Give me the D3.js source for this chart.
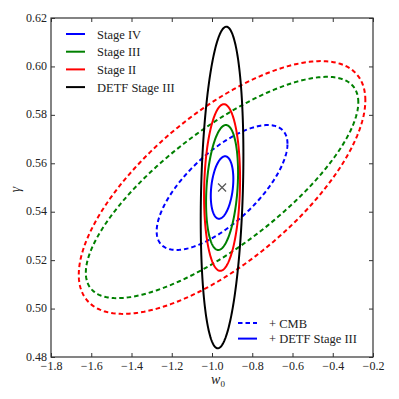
<!DOCTYPE html>
<html>
<head>
<meta charset="utf-8">
<script src="https://cdn.jsdelivr.net/npm/d3@7"></script>
<style>
  body { margin: 0; background: #fff; }
  svg text { font-family: "Liberation Serif", "DejaVu Serif", serif; fill: #222; }
</style>
</head>
<body>
<svg id="chart" width="399" height="399"></svg>
<script>
// fiducial model (w0, gamma)
var fiducial = [-0.95, 0.55];

// + CMB (dashed) : half-extents in w0 / gamma and correlation
var cmbStage = ["Stage IV", "Stage III", "Stage II"];
var cmbHalfW = [0.325, 0.677, 0.712];
var cmbHalfH = [0.0258, 0.0457, 0.0522];
var cmbRho   = [0.70, 0.77, 0.69];

// + DETF Stage III (solid)
var detfStage = ["Stage IV", "Stage III", "Stage II", "DETF Stage III"];
var detfHalfW = [0.056, 0.0795, 0.0894, 0.106];
var detfHalfH = [0.0129, 0.0258, 0.0344, 0.0664];
var detfRho   = [0.27, 0.24, 0.10, 0.20];

var xTicks = [-1.8, -1.6, -1.4, -1.2, -1.0, -0.8, -0.6, -0.4, -0.2];
var yTicks = [0.48, 0.50, 0.52, 0.54, 0.56, 0.58, 0.60, 0.62];

var colorOf = {"Stage IV": "#0000ff", "Stage III": "#008000", "Stage II": "#ff0000", "DETF Stage III": "#000000"};

///////////////////////
// Chart Size Setup
var margin = { top: 18, right: 26, bottom: 42, left: 51 };
var width = 399 - margin.left - margin.right;
var height = 399 - margin.top - margin.bottom;

var svg = d3.select("#chart");
var chart = svg.append("g")
    .attr("transform", "translate(" + margin.left + "," + margin.top + ")");

///////////////////////
// Scales
var x = d3.scaleLinear().domain([-1.8, -0.2]).range([0, width]);
var y = d3.scaleLinear().domain([0.48, 0.62]).range([height, 0]);

// ellipse outline from half-extents + correlation
function ellipse(hw, hh, rho) {
  var pts = [];
  var s = Math.sqrt(1 - rho * rho);
  for (var i = 0; i < 240; i++) {
    var t = 2 * Math.PI * i / 240;
    pts.push([fiducial[0] + hw * Math.cos(t),
              fiducial[1] + hh * (rho * Math.cos(t) + s * Math.sin(t))]);
  }
  return pts;
}

var line = d3.line()
    .x(function(d) { return x(d[0]); })
    .y(function(d) { return y(d[1]); })
    .curve(d3.curveLinearClosed);

var plot = chart.append("g");

cmbStage.forEach(function(name, i) {
  plot.append("path")
      .attr("d", line(ellipse(cmbHalfW[i], cmbHalfH[i], cmbRho[i])))
      .attr("fill", "none")
      .attr("stroke", colorOf[name])
      .attr("stroke-width", 2)
      .attr("stroke-dasharray", "4.5,3");
});

detfStage.forEach(function(name, i) {
  plot.append("path")
      .attr("d", line(ellipse(detfHalfW[i], detfHalfH[i], detfRho[i])))
      .attr("fill", "none")
      .attr("stroke", colorOf[name])
      .attr("stroke-width", 2);
});

// fiducial marker
var cx = x(fiducial[0]), cy = y(fiducial[1]);
plot.append("path")
    .attr("d", "M" + (cx - 4) + "," + (cy - 4) + "L" + (cx + 4) + "," + (cy + 4) +
               "M" + (cx - 4) + "," + (cy + 4) + "L" + (cx + 4) + "," + (cy - 4))
    .attr("stroke", "#555")
    .attr("stroke-width", 1.2);

///////////////////////
// Axis
var fmtX = d3.format(".1f");
var fmtY = d3.format(".2f");

chart.append("g")
    .attr("class", "x axis")
    .attr("transform", "translate(0," + height + ")")
    .call(d3.axisBottom(x).tickValues(xTicks).tickFormat(fmtX).tickSize(-4).tickPadding(4));

chart.append("g")
    .attr("class", "x axis")
    .call(d3.axisTop(x).tickValues(xTicks).tickFormat("").tickSize(-4));

chart.append("g")
    .attr("class", "y axis")
    .call(d3.axisLeft(y).tickValues(yTicks).tickFormat(fmtY).tickSize(-4).tickPadding(4));

chart.append("g")
    .attr("class", "y axis")
    .attr("transform", "translate(" + width + ",0)")
    .call(d3.axisRight(y).tickValues(yTicks).tickFormat("").tickSize(-4));

chart.selectAll(".axis .domain").remove();
chart.selectAll(".axis line").attr("stroke", "#333");
chart.selectAll(".axis text")
    .attr("font-family", null)
    .style("font-family", "'Liberation Serif', 'DejaVu Serif', serif")
    .style("font-size", "12px")
    .attr("fill", "#222");
chart.selectAll(".y.axis text").attr("dy", "0.26em");

chart.append("rect")
    .attr("width", width)
    .attr("height", height)
    .attr("fill", "none")
    .attr("stroke", "#333")
    .attr("stroke-width", 1.2);

// axis labels
var xl = chart.append("text")
    .attr("x", x(-0.97))
    .attr("y", height + 27)
    .attr("text-anchor", "middle")
    .style("font-size", "14px");
xl.append("tspan").style("font-style", "italic").text("w");
xl.append("tspan").attr("dy", 3).style("font-size", "9px").text("0");

chart.append("text")
    .attr("transform", "translate(-31," + (height / 2 + 2) + ") rotate(-90)")
    .attr("text-anchor", "middle")
    .style("font-size", "14px")
    .style("font-style", "italic")
    .text("γ");

///////////////////////
// Legends
var leg1 = chart.append("g").attr("transform", "translate(15,16)");
detfStage.forEach(function(name, i) {
  var g = leg1.append("g").attr("transform", "translate(0," + (i * 17.7) + ")");
  g.append("line").attr("x1", 0).attr("x2", 19).attr("y1", 0).attr("y2", 0)
      .attr("stroke", colorOf[name]).attr("stroke-width", 2);
  g.append("text").attr("x", 31).attr("y", 4.5).style("font-size", "12.5px").text(name);
});

var leg2 = chart.append("g").attr("transform", "translate(187,305)");
["+ CMB", "+ DETF Stage III"].forEach(function(label, i) {
  var g = leg2.append("g").attr("transform", "translate(0," + (i * 15.6) + ")");
  g.append("line").attr("x1", 0).attr("x2", 19).attr("y1", 0).attr("y2", 0)
      .attr("stroke", "#0000ff").attr("stroke-width", 2)
      .attr("stroke-dasharray", i === 0 ? "4.5,3" : null);
  g.append("text").attr("x", 31).attr("y", 4.5).style("font-size", "12.5px").text(label);
});
</script>
</body>
</html>
